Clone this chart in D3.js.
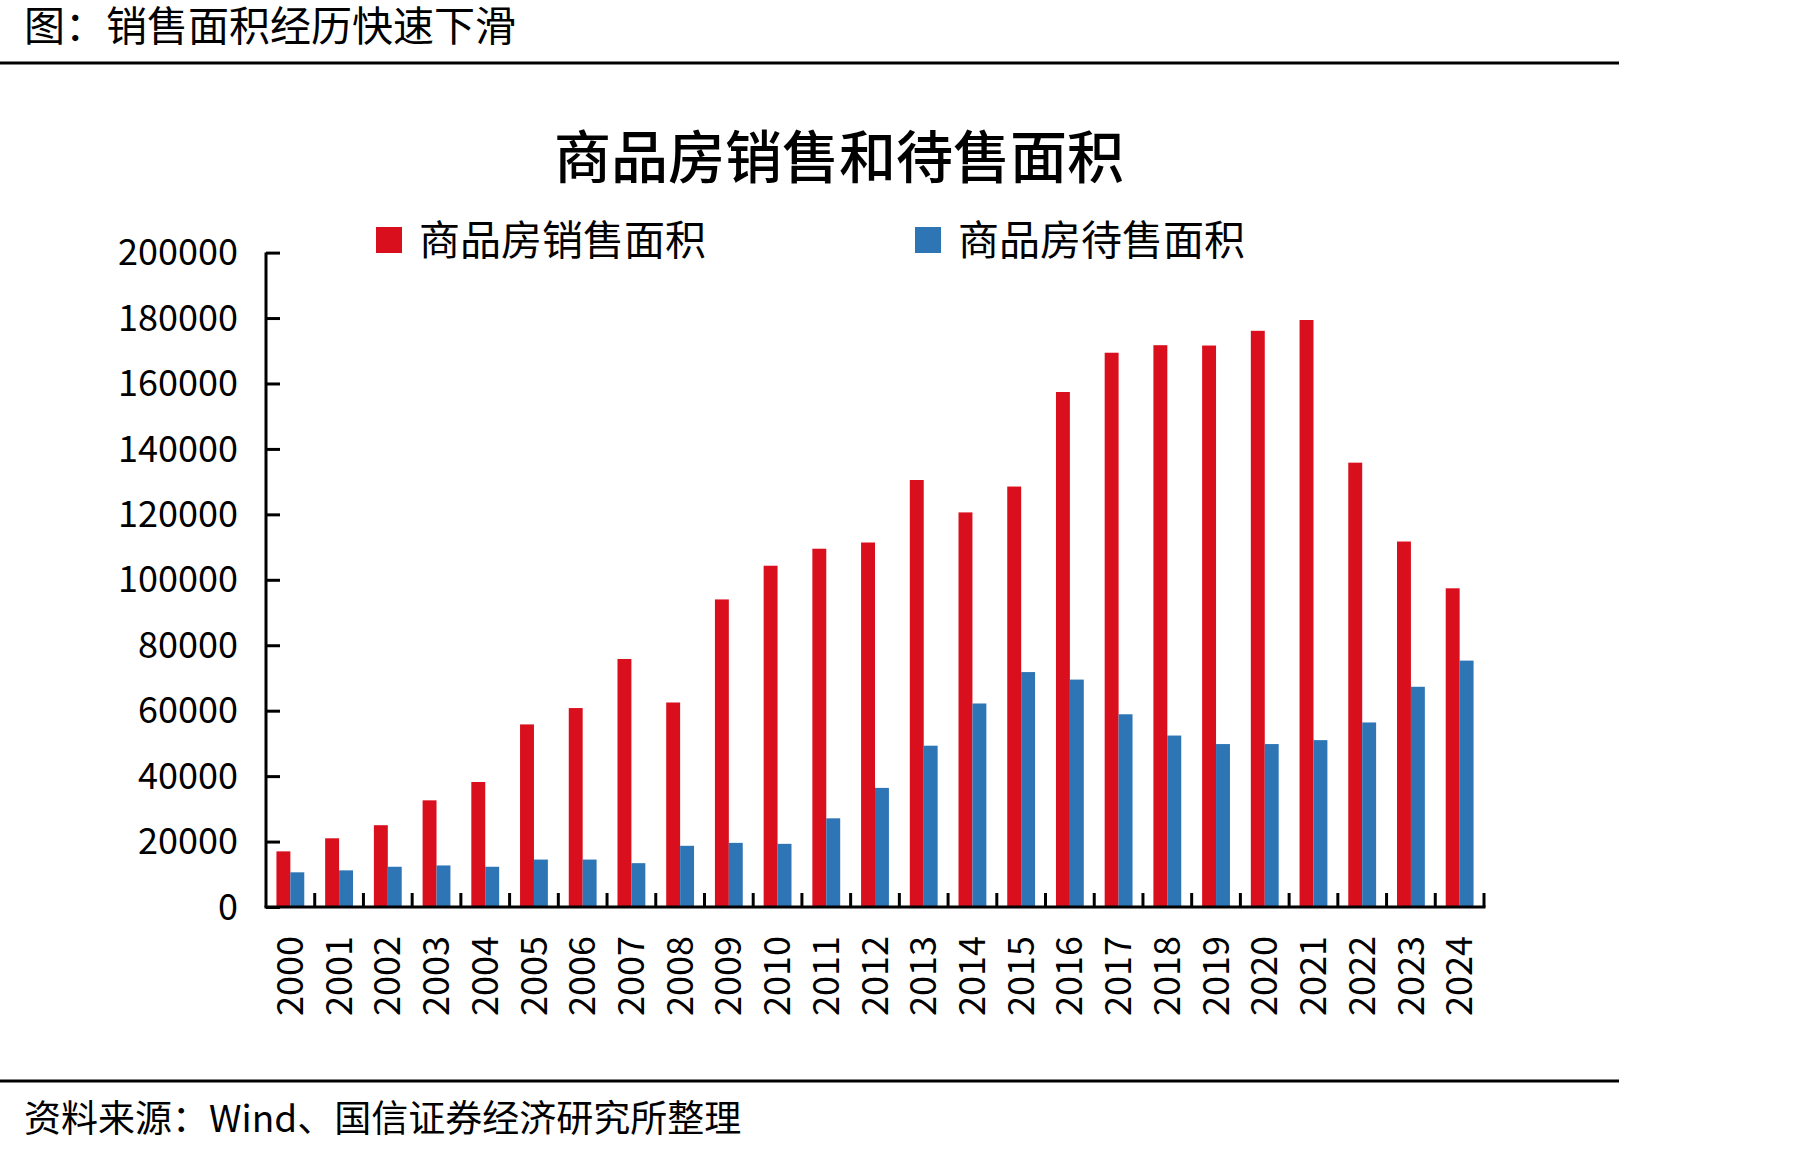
<!DOCTYPE html>
<html>
<head>
<meta charset="utf-8">
<script src="https://cdn.jsdelivr.net/npm/d3@7"></script>
<style>
  body { margin: 0; background: #fff; }
  svg text { font-family: "Noto Sans CJK SC", "Noto Sans", sans-serif; fill: #000; }
</style>
</head>
<body>
<svg id="chart" width="1800" height="1154"></svg>
<script>
var years = ["2000","2001","2002","2003","2004","2005","2006","2007","2008","2009","2010","2011","2012",
  "2013","2014","2015","2016","2017","2018","2019","2020","2021","2022","2023","2024"];
// 商品房销售面积
var salesArea = [17000, 21000, 25000, 32600, 38200, 55800, 60800, 75800, 62500, 94000, 104300, 109500, 111400,
  130500, 120600, 128500, 157400, 169400, 171700, 171600, 176100, 179400, 135800, 111700, 97400];
// 商品房待售面积
var pendingArea = [10600, 11200, 12300, 12700, 12300, 14500, 14500, 13400, 18700, 19600, 19300, 27100, 36400,
  49300, 62200, 71800, 69500, 58900, 52400, 49800, 49800, 51000, 56400, 67300, 75300];
var seriesNames = ["商品房销售面积", "商品房待售面积"];
var seriesColors = ["#d90f1e", "#2e75b6"];
var yTicks = [0, 20000, 40000, 60000, 80000, 100000, 120000, 140000, 160000, 180000, 200000];

var svg = d3.select("#chart");

var margin = {left: 266, right: 1484, top: 252.6, bottom: 907};

// 标题与分隔线
svg.append("text")
  .attr("x", 24).attr("y", 41)
  .style("font-size", "41px")
  .text("图：销售面积经历快速下滑");

svg.append("line")
  .attr("x1", 0).attr("x2", 1619).attr("y1", 63).attr("y2", 63)
  .attr("stroke", "#000").attr("stroke-width", 3);

svg.append("line")
  .attr("x1", 0).attr("x2", 1619).attr("y1", 1081).attr("y2", 1081)
  .attr("stroke", "#000").attr("stroke-width", 3);

svg.append("text")
  .attr("x", 24).attr("y", 1132)
  .style("font-size", "37px")
  .text("资料来源：Wind、国信证券经济研究所整理");

svg.append("text")
  .attr("x", 839).attr("y", 178)
  .attr("text-anchor", "middle")
  .style("font-size", "57px")
  .style("font-weight", 500)
  .text("商品房销售和待售面积");

// 图例
var legendX = [376, 915];
seriesNames.forEach(function(name, i) {
  svg.append("rect")
    .attr("x", legendX[i]).attr("y", 227)
    .attr("width", 26).attr("height", 26)
    .attr("fill", seriesColors[i]);
  svg.append("text")
    .attr("x", legendX[i] + 43).attr("y", 255)
    .style("font-size", "41px")
    .text(name);
});

// 比例尺
var x = d3.scaleBand()
  .domain(years)
  .range([margin.left, margin.right])
  .padding(0);

var xInner = d3.scaleBand()
  .domain([0, 1])
  .range([0, x.bandwidth()])
  .paddingInner(0)
  .paddingOuter(0.75);

var y = d3.scaleLinear()
  .domain([0, 200000])
  .range([margin.bottom, margin.top]);

// 柱子
var groups = svg.append("g").selectAll("g.year")
  .data(years)
  .enter()
  .append("g")
  .attr("class", "year")
  .attr("transform", function(d) { return "translate(" + x(d) + ",0)"; });

groups.each(function(d, i) {
  var vals = [salesArea[i], pendingArea[i]];
  d3.select(this).selectAll("rect")
    .data(vals)
    .enter()
    .append("rect")
    .attr("x", function(v, j) { return xInner(j); })
    .attr("width", xInner.bandwidth())
    .attr("y", function(v) { return y(v); })
    .attr("height", function(v) { return y(0) - y(v); })
    .attr("fill", function(v, j) { return seriesColors[j]; });
});

// Y 轴
var yAxis = d3.axisRight(y)
  .tickValues(yTicks)
  .tickSize(14)
  .tickFormat("");

var yg = svg.append("g")
  .attr("transform", "translate(" + margin.left + ",0)")
  .call(yAxis);
yg.select(".domain").attr("d", "M0," + margin.top + "V" + margin.bottom);
yg.selectAll("path, line").attr("stroke", "#000").attr("stroke-width", 3);

svg.append("g").selectAll("text.ytick")
  .data(yTicks)
  .enter()
  .append("text")
  .attr("class", "ytick")
  .attr("x", 238)
  .attr("y", function(d) { return y(d); })
  .attr("dy", "0.35em")
  .attr("text-anchor", "end")
  .style("font-size", "36px")
  .text(function(d) { return d; });

// X 轴
var xg = svg.append("g");
xg.append("line")
  .attr("x1", margin.left - 1.5).attr("x2", margin.right + 1.5)
  .attr("y1", y(0)).attr("y2", y(0))
  .attr("stroke", "#000").attr("stroke-width", 3);

xg.selectAll("line.xtick")
  .data(years)
  .enter()
  .append("line")
  .attr("class", "xtick")
  .attr("x1", function(d) { return x(d) + x.bandwidth(); })
  .attr("x2", function(d) { return x(d) + x.bandwidth(); })
  .attr("y1", y(0)).attr("y2", y(0) - 14)
  .attr("stroke", "#000").attr("stroke-width", 3);

xg.selectAll("text.xlabel")
  .data(years)
  .enter()
  .append("text")
  .attr("class", "xlabel")
  .attr("text-anchor", "end")
  .attr("transform", function(d) {
    return "translate(" + (x(d) + x.bandwidth() / 2) + "," + (y(0) + 29) + ") rotate(-90)";
  })
  .attr("dy", "0.35em")
  .style("font-size", "36px")
  .text(function(d) { return d; });
</script>
</body>
</html>
